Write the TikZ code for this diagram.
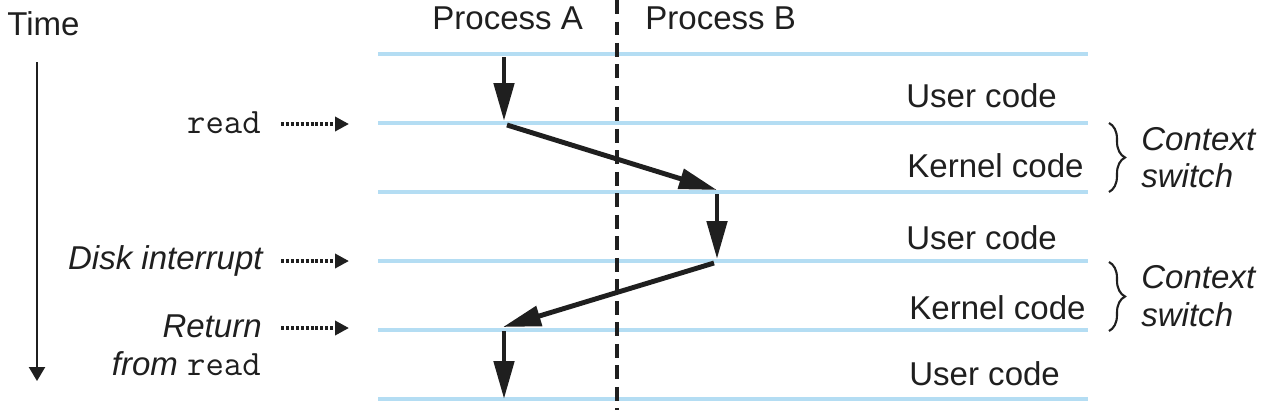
\documentclass[tikz,border=0pt]{standalone}
\usepackage{fontspec}
\setmainfont{Liberation Sans}
\usetikzlibrary{arrows.meta, decorations.pathreplacing}
\definecolor{mainBlack}{gray}{0.12}
\definecolor{lineBlue}{RGB}{180,221,243}
\newcommand{\codeword}[1]{{\fontsize{20.3}{22}\selectfont\ttfamily\upshape #1}}

\begin{document}
\begin{tikzpicture}[x=0.02cm, y=-0.02cm, >=stealth,
    font=\fontsize{18.8}{22}\selectfont,
    every node/.style={inner sep=0pt, text=mainBlack},
    timeline/.style={line width=2.6pt, lineBlue},
    flow/.style={line width=2.8pt, mainBlack, -{Triangle[length=0.76cm, width=0.4cm]}},
    pointer/.style={line width=2.3pt, mainBlack, dash pattern=on 1.7pt off 1.1pt, -{Triangle[length=0.28cm, width=0.28cm]}},
    clock/.style={line width=1.4pt, mainBlack, -{Triangle[length=0.28cm, width=0.32cm]}},
    switchbrace/.style={line width=1.2pt, mainBlack, decorate, decoration={brace, amplitude=0.32cm}}]
    \useasboundingbox (0,0) rectangle (1264,410);

    % time lines
    \draw[timeline] (378,54) -- (1088,54);
    \draw[timeline] (378,123) -- (1088,123);
    \draw[timeline] (378,192) -- (1088,192);
    \draw[timeline] (378,261) -- (1088,261);
    \draw[timeline] (378,330) -- (1088,330);
    \draw[timeline] (378,399) -- (1088,399);

    % process boundary
    \draw[mainBlack, line width=2pt, dash pattern=on 0.28cm off 0.15cm] (617,0) -- (617,410);

    \node[anchor=base west] (procA) at (432,29) {Process A};
    \node[anchor=base west] (procB) at (645,29) {Process B};

    % time axis
    \node[anchor=base west] (time) at (7,35) {Time};
    \coordinate (t0) at (37,62);
    \coordinate (t1) at (37,381);
    \draw[clock] (t0) -- (t1);

    % control flow
    \coordinate (a0) at (504,57);
    \coordinate (a1) at (504,121);
    \coordinate (a2) at (507,125);
    \coordinate (b0) at (717,190);
    \coordinate (b1) at (717,194);
    \coordinate (b2) at (717,259);
    \coordinate (b3) at (714,263);
    \coordinate (a3) at (503,327);
    \coordinate (a4) at (504,331);
    \coordinate (a5) at (504,399);
    \draw[flow] (a0) -- (a1);
    \draw[flow] (a2) -- (b0);
    \draw[flow] (b1) -- (b2);
    \draw[flow] (b3) -- (a3);
    \draw[flow] (a4) -- (a5);

    % events
    \node[anchor=base east] (read) at (261,133) {\codeword{read}};
    \node[anchor=base east] (disk) at (263,269) {\itshape Disk interrupt};
    \node[anchor=base east] (ret) at (262,337) {\itshape Return};
    \node[anchor=base east] (retb) at (261,375) {\itshape from \codeword{read}};
    \coordinate (p1s) at (281,124);
    \coordinate (p1e) at (349,124);
    \coordinate (p2s) at (281,261);
    \coordinate (p2e) at (349,261);
    \coordinate (p3s) at (281,328);
    \coordinate (p3e) at (349,328);
    \draw[pointer] (p1s) -- (p1e);
    \draw[pointer] (p2s) -- (p2e);
    \draw[pointer] (p3s) -- (p3e);

    % code regions
    \node[anchor=base west] (user1) at (906,107) {User code};
    \node[anchor=base west] (kern1) at (907,177) {Kernel code};
    \node[anchor=base west] (user2) at (906,249) {User code};
    \node[anchor=base west] (kern2) at (909,319) {Kernel code};
    \node[anchor=base west] (user3) at (909,385) {User code};

    % context switches
    \coordinate (s1t) at (1109,123);
    \coordinate (s1b) at (1109,192);
    \coordinate (s2t) at (1109,262);
    \coordinate (s2b) at (1109,331);
    \draw[switchbrace] (s1t) -- (s1b);
    \draw[switchbrace] (s2t) -- (s2b);
    \node[anchor=base west] (ctx1) at (1141,150) {\itshape Context};
    \node[anchor=base west] (sw1) at (1141,187) {\itshape switch};
    \node[anchor=base west] (ctx2) at (1141,288) {\itshape Context};
    \node[anchor=base west] (sw2) at (1141,326) {\itshape switch};
\end{tikzpicture}
\end{document}
